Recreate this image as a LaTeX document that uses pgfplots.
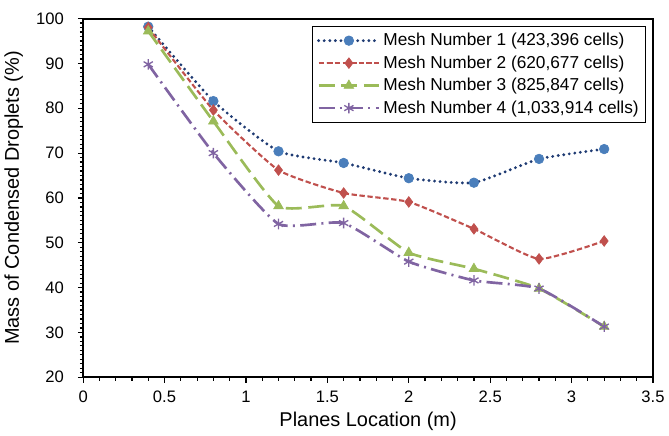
\documentclass[border=0pt]{standalone}
\usepackage{pgfplots}
\pgfplotsset{compat=1.18}
\usepackage{fontspec}
\setmainfont{Liberation Sans}
\definecolor{navy}{HTML}{1F3B73}
\definecolor{mblue}{HTML}{4A7EBB}
\definecolor{mred}{HTML}{C0504D}
\definecolor{mgreen}{HTML}{9BBB59}
\definecolor{mpurple}{HTML}{8064A2}
\begin{document}
\begin{tikzpicture}
\begin{axis}[
  scale only axis,
  width=429pt, height=270pt,
  xmin=0, xmax=3.5, ymin=20, ymax=100,
  xtick={0,0.5,...,3.5},
  ytick={20,30,...,100},
  xticklabels={0,0.5,1,1.5,2,2.5,3,3.5},
  minor x tick num=4,
  minor y tick num=9,
  /pgf/number format/assume math mode=true,
  tick label style={font=\fontsize{12.5}{14}\selectfont},
  yticklabel style={xshift=-7pt},
  xticklabel style={yshift=-3pt},
  label style={font=\fontsize{15}{17}\selectfont},
  ylabel style={yshift=3pt},
  xlabel={Planes Location (m)},
  ylabel={Mass of Condensed Droplets (\%)},
  axis line style={black, line width=1.5pt},
  tick style={black, line width=0.9pt},
  tick align=outside,
  xtick pos=bottom, ytick pos=left,
  major tick length=4pt,
  minor tick length=2.5pt,
  legend style={at={(0.987,0.978)}, anchor=north east, draw=none, fill=white,
    name=leg, font=\fontsize{13}{15}\selectfont, row sep=2pt, inner sep=3pt},
  legend cell align=left,
  legend image code/.code={\draw[mark repeat=2,mark phase=2,#1] plot coordinates {(0cm,0cm)(0.8cm,0cm)(1.6cm,0cm)};},
]
\addplot[navy, line width=2.4pt, line cap=round, dash pattern=on 0pt off 4.2pt, smooth, tension=0.3,
  mark=*, mark size=3.6pt, mark options={solid, fill=mblue, draw=mblue, line width=0.5pt}]
  coordinates {(0.4,98.2)(0.8,81.6)(1.2,70.4)(1.6,67.8)(2.0,64.4)(2.4,63.4)(2.8,68.7)(3.2,70.9)};
\addlegendentry{Mesh Number 1 (423,396 cells)}
\addplot[mred, line width=1.6pt, dash pattern=on 4pt off 2pt, smooth, tension=0.3,
  mark=diamond*, mark size=4pt, mark options={solid, fill=mred, draw=mred, line width=0.5pt}]
  coordinates {(0.4,98.0)(0.8,79.6)(1.2,66.2)(1.6,61.1)(2.0,59.1)(2.4,53.1)(2.8,46.4)(3.2,50.4)};
\addlegendentry{Mesh Number 2 (620,677 cells)}
\addplot[mgreen, line width=2pt, dash pattern=on 12pt off 5pt, smooth, tension=0.3,
  mark=triangle*, mark size=4.2pt, mark options={solid, fill=mgreen, draw=mgreen, line width=0.5pt}]
  coordinates {(0.4,97.2)(0.8,77.1)(1.2,58.2)(1.6,58.2)(2.0,47.8)(2.4,44.2)(2.8,39.8)(3.2,31.3)};
\addlegendentry{Mesh Number 3 (825,847 cells)}
\addplot[mpurple, line width=2pt, dash pattern=on 12pt off 4pt on 1.5pt off 4pt, smooth, tension=0.3,
  mark=asterisk, mark size=4pt, mark options={solid, draw=mpurple, line width=1pt}]
  coordinates {(0.4,89.8)(0.8,70.0)(1.2,54.2)(1.6,54.4)(2.0,45.8)(2.4,41.6)(2.8,39.8)(3.2,31.3)};
\addlegendentry{Mesh Number 4 (1,033,914 cells)}
\end{axis}
\draw[black, line width=0.9pt] (leg.south west) rectangle (leg.north east);
\path (current axis.north) ++(0,14pt) coordinate (topmargin);
\end{tikzpicture}
\end{document}
